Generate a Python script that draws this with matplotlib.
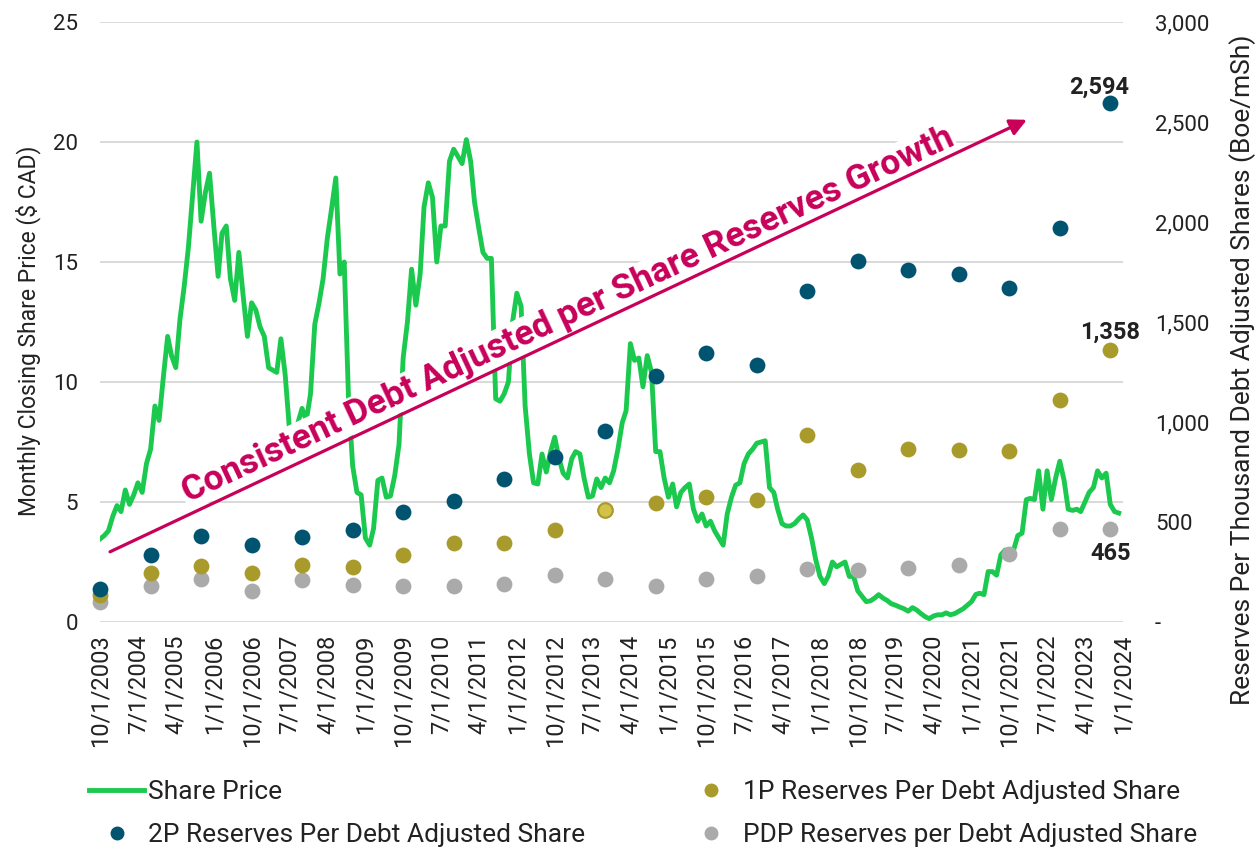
import numpy as np
import pandas as pd
import matplotlib
matplotlib.use('Agg')
import matplotlib.pyplot as plt
import matplotlib.ticker as mticker
from matplotlib.lines import Line2D

plt.rcParams['font.family'] = ['Roboto', 'DejaVu Sans']

# monthly closing share price, Oct 2003 .. Dec 2023
price = [
    3.46, 3.6, 3.8, 4.4, 4.85, 4.6, 5.5, 4.9, 5.3, 5.8, 5.4, 6.6,
    7.2, 9.0, 8.4, 10.2, 11.9, 11.1, 10.6, 12.6, 14.0, 15.6, 17.8, 20.0,
    16.7, 17.9, 18.7, 16.5, 14.4, 16.2, 16.5, 14.3, 13.4, 15.4, 13.6, 11.9,
    13.3, 13.0, 12.3, 11.9, 10.6, 10.5, 10.4, 11.8, 10.3, 8.1, 7.3, 8.3,
    8.9, 8.4, 9.5, 12.4, 13.3, 14.3, 16.0, 17.2, 18.5, 14.5, 15.0, 9.3,
    6.5, 5.4, 5.3, 3.5, 3.2, 3.9, 5.9, 6.0, 5.2, 5.25, 6.1, 7.4,
    11.0, 12.5, 14.7, 13.2, 14.5, 17.3, 18.3, 17.7, 15.0, 16.5, 16.5, 19.2,
    19.7, 19.4, 19.1, 20.1, 19.2, 17.5, 16.4, 15.4, 15.15, 15.15, 9.3, 9.2,
    9.5, 10.0, 12.5, 13.7, 13.15, 9.0, 7.0, 5.8, 5.75, 7.0, 6.25, 7.1,
    7.7, 6.8, 6.2, 6.0, 6.8, 7.1, 7.0, 6.0, 5.2, 5.25, 5.96, 5.6,
    6.0, 5.8, 6.3, 7.2, 8.3, 8.8, 11.6, 10.9, 11.0, 9.8, 11.1, 10.4,
    7.1, 7.1, 6.0, 5.2, 5.75, 4.8, 5.4, 5.6, 5.75, 4.7, 4.2, 4.5,
    4.0, 4.2, 3.8, 3.5, 3.2, 4.5, 5.2, 5.7, 5.8, 6.6, 7.0, 7.2,
    7.45, 7.5, 7.55, 5.6, 5.4, 4.7, 4.1, 4.0, 4.0, 4.1, 4.3, 4.46,
    4.25, 3.5, 2.6, 1.9, 1.6, 1.9, 2.5, 2.3, 2.4, 2.5, 1.9, 1.9,
    1.3, 1.07, 0.85, 0.88, 1.0, 1.14, 1.0, 0.9, 0.76, 0.7, 0.62, 0.55,
    0.45, 0.6, 0.5, 0.35, 0.22, 0.14, 0.25, 0.3, 0.3, 0.38, 0.3, 0.35,
    0.45, 0.55, 0.7, 0.85, 1.15, 1.2, 1.14, 2.1, 2.1, 1.95, 2.8, 3.0,
    2.9, 3.0, 3.6, 3.7, 5.1, 5.15, 5.1, 6.3, 4.7, 6.3, 5.1, 6.0,
    6.7, 5.9, 4.7, 4.65, 4.7, 4.6, 5.0, 5.4, 5.6, 6.3, 6.0, 6.2,
    4.9, 4.6, 4.54,
]
months = pd.date_range('2003-10-01', periods=len(price), freq='MS')

# annual reserves per thousand debt adjusted shares (Boe/mSh)
years = list(range(2003, 2024))
res_2p = [165, 335, 431, 385, 427, 461, 552, 604, 716, 823, 954, 1229, 1344,
          1284, 1654, 1805, 1760, 1741, 1669, 1968, 2594]
res_1p = [135, 243, 280, 243, 285, 277, 334, 394, 394, 458, 558, 595, 626,
          609, 933, 760, 864, 859, 853, 1112, 1358]
res_pdp = [102, 180, 215, 155, 210, 185, 178, 182, 191, 237, 213, 178, 213,
           228, 267, 261, 271, 285, 341, 465, 465]
res_dates = pd.to_datetime([f'{y}-10-01' for y in years])
highlight_1p = 10  # 2013 point drawn with a lighter fill

tick_dates = pd.date_range('2003-10-01', '2024-01-01', freq='9MS')
tick_labels = [f'{d.month}/{d.day}/{d.year}' for d in tick_dates]

GREEN = '#1cc94f'
TEAL = '#005470'
OLIVE = '#a99b2b'
GREY = '#aaaaaa'
CRIMSON = '#c8005a'
TXT = '#222222'

fig = plt.figure(figsize=(12.56, 8.52), dpi=100)
ax = fig.add_axes([100 / 1256, 230 / 852, 1023 / 1256, 600 / 852])
ax2 = ax.twinx()

ax.plot(months, price, color=GREEN, lw=3.5, zorder=3, solid_joinstyle='round')
ax.set_ylim(0, 25)
ax.set_yticks(range(0, 26, 5))
ax.set_xlim(tick_dates[0], tick_dates[-1])
ax.set_xticks(tick_dates)
ax.set_xticklabels(tick_labels, rotation=90)
ax.grid(axis='y', color='#d9d9d9', lw=1.4)
ax.set_axisbelow(True)
for a in (ax, ax2):
    for s in a.spines.values():
        s.set_visible(False)
ax.tick_params(length=0, labelsize=16, colors=TXT)
ax.tick_params(axis='y', pad=16)
ax.tick_params(axis='x', pad=9, labelsize=17)
ax.set_ylabel('Monthly Closing Share Price ($ CAD)', fontsize=16.5, color=TXT, va='center')
ax.yaxis.set_label_coords(-0.070, 0.485)

ax2.scatter(res_dates, res_pdp, s=130, color=GREY, zorder=4, clip_on=False, linewidths=0)
ax2.scatter(res_dates, res_1p, s=130, color=OLIVE, zorder=4, clip_on=False, linewidths=0)
ax2.scatter(res_dates[highlight_1p], res_1p[highlight_1p], s=110, color='#d2c24a',
            edgecolors=OLIVE, linewidths=1.5, zorder=4, clip_on=False)
ax2.scatter(res_dates, res_2p, s=130, color=TEAL, zorder=4, clip_on=False, linewidths=0)
ax2.set_ylim(0, 3000)
ax2.set_yticks(range(0, 3001, 500))
ax2.yaxis.set_major_formatter(mticker.FuncFormatter(lambda v, p: '-' if v == 0 else f'{v:,.0f}'))
ax2.tick_params(length=0, labelsize=16, colors=TXT, pad=23)
ax2.set_ylabel('Reserves Per Thousand Debt Adjusted Shares (Boe/mSh)', fontsize=19,
               color=TXT, va='center')
ax2.yaxis.set_label_coords(1.117, 0.42)

# end-point value labels
ax2.annotate(f'{res_2p[-1]:,}', xy=(res_dates[-1], res_2p[-1]), xytext=(-8, 3),
             textcoords='offset points', ha='center', va='bottom', fontsize=17,
             fontweight='bold', color=TXT)
ax2.annotate(f'{res_1p[-1]:,}', xy=(res_dates[-1], res_1p[-1]), xytext=(0, 5),
             textcoords='offset points', ha='center', va='bottom', fontsize=17,
             fontweight='bold', color=TXT)
ax2.annotate(f'{res_pdp[-1]:,}', xy=(res_dates[-1], res_pdp[-1]), xytext=(0, -9),
             textcoords='offset points', ha='center', va='top', fontsize=17,
             fontweight='bold', color=TXT)

# trend annotation
ax2.text(0.461, 0.497, 'Consistent Debt Adjusted per Share Reserves Growth',
         transform=ax2.transAxes, rotation=25, rotation_mode='anchor',
         ha='center', va='baseline', fontsize=25.5, fontweight='bold', color=CRIMSON,
         bbox=dict(fc='white', ec='none', pad=1), zorder=5)
ax2.annotate('', xy=(0.906, 0.837), xytext=(0.0098, 0.117),
             xycoords='axes fraction', textcoords='axes fraction',
             arrowprops=dict(arrowstyle='-|>', color=CRIMSON, lw=2.3,
                             mutation_scale=25, shrinkA=0, shrinkB=0), zorder=6)

handles = [
    Line2D([], [], color=GREEN, lw=3.5),
    Line2D([], [], ls='none', marker='o', ms=9, color=TEAL),
    Line2D([], [], ls='none', marker='o', ms=9, color=OLIVE),
    Line2D([], [], ls='none', marker='o', ms=9, color=GREY),
]
labels = ['Share Price', '2P Reserves Per Debt Adjusted Share',
          '1P Reserves Per Debt Adjusted Share', 'PDP Reserves per Debt Adjusted Share']
fig.legend(handles, labels, ncol=2, loc='upper left',
           bbox_to_anchor=(89 / 1256, 1 - 780 / 852), frameon=False,
           fontsize=19, handlelength=2.1, handletextpad=0.15, columnspacing=3.7,
           labelspacing=0.72, borderpad=0, borderaxespad=0, labelcolor=TXT)

fig.savefig('out.png', dpi=100)
